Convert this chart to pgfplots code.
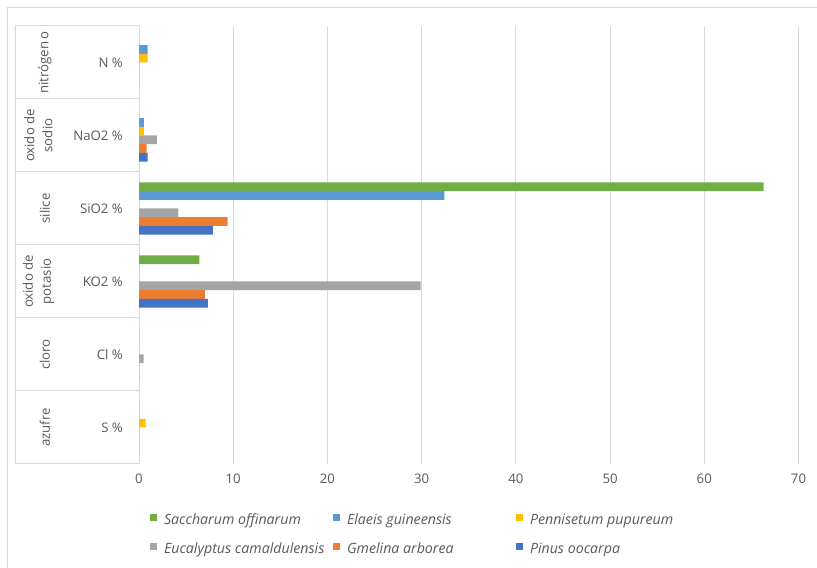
\documentclass[border=0pt]{standalone}
\usepackage{pgfplots}
\pgfplotsset{compat=1.18}
\usepackage{fontspec}
\setmainfont{Open Sans}
\definecolor{cgreen}{HTML}{70AD47}
\definecolor{cblue}{HTML}{5B9BD5}
\definecolor{cyellow}{HTML}{FFC000}
\definecolor{cgray}{HTML}{A5A5A5}
\definecolor{corange}{HTML}{ED7D31}
\definecolor{cdblue}{HTML}{4472C4}
\definecolor{txt}{HTML}{595959}
\definecolor{gridc}{HTML}{D9D9D9}
\newcommand{\lfont}{\fontsize{13.2bp}{18bp}\selectfont}
\newcommand{\gfont}{\fontsize{14.2bp}{18bp}\selectfont}
\begin{document}
\begin{tikzpicture}[x=1bp,y=1bp]
\path[use as bounding box] (0,0) rectangle (817,568);
\draw[gridc, line width=1bp] (7,0) -- (7,560) -- (817,560);
% category table lines
\draw[gridc, line width=1bp] (15,542) -- (15,104);
\foreach \yy in {542,469,396,323,250,177,104} {\draw[gridc, line width=1bp] (15,\yy) -- (139,\yy);}
\begin{axis}[
  at={(139bp,104bp)}, anchor=south west,
  scale only axis, width=659.5bp, height=438bp,
  xmin=0, xmax=70, ymin=-0.5, ymax=5.5,
  xbar, bar width=8.7bp,
  axis line style={draw=none},
  xtick={0,10,...,70}, ytick=\empty,
  xmajorgrids, grid style={gridc, line width=1bp},
  major tick length=0,
  xticklabel style={font=\lfont, text=txt, yshift=-6bp},
  /pgf/number format/assume math mode=true,
  legend style={at={(0.01668,-0.11416)}, anchor=north west, draw=none, fill=none,
    inner sep=0pt, outer sep=0pt,
    nodes={inner sep=0bp, text height=10bp, text depth=3bp, font=\gfont\itshape, text=txt},
    row sep=15bp,
    /tikz/every odd column/.append style={column sep=7bp},
    /tikz/every even column/.append style={column sep=0bp}},
  legend columns=3,
  legend image code/.code={\path[#1, draw=none] (0bp,0bp) rectangle (7bp,7bp);},
]
\addplot[fill=cgreen, draw=none, bar shift=21.75bp] coordinates {(0,0) (0,1) (6.4,2) (66.3,3) (0,4) (0,5)};
\addlegendentry{\makebox[169bp][l]{Saccharum offinarum}}
\addplot[fill=cblue, draw=none, bar shift=13.05bp] coordinates {(0,0) (0,1) (0,2) (32.4,3) (0.53,4) (0.92,5)};
\addlegendentry{\makebox[169bp][l]{Elaeis guineensis}}
\addplot[fill=cyellow, draw=none, bar shift=4.35bp] coordinates {(0.7,0) (0,1) (0,2) (0,3) (0.53,4) (0.92,5)};
\addlegendentry{\makebox[169bp][l]{Pennisetum pupureum}}
\addplot[fill=cgray, draw=none, bar shift=-4.35bp] coordinates {(0,0) (0.5,1) (29.9,2) (4.17,3) (1.9,4) (0,5)};
\addlegendentry{\makebox[169bp][l]{Eucalyptus camaldulensis}}
\addplot[fill=corange, draw=none, bar shift=-13.05bp] coordinates {(0,0) (0,1) (7.0,2) (9.4,3) (0.82,4) (0,5)};
\addlegendentry{\makebox[169bp][l]{Gmelina arborea}}
\addplot[fill=cdblue, draw=none, bar shift=-21.75bp] coordinates {(0,0) (0,1) (7.3,2) (7.85,3) (0.92,4) (0,5)};
\addlegendentry{\makebox[169bp][l]{Pinus oocarpa}}
\end{axis}
% inner category labels
\begin{scope}[every node/.style={font=\lfont, text=txt, inner sep=0bp}]
\node[anchor=east] at (123,505.5) {N \%};
\node[anchor=east] at (123,432.5) {NaO2 \%};
\node[anchor=east] at (123,359.5) {SiO2 \%};
\node[anchor=east] at (123,286.5) {KO2 \%};
\node[anchor=east] at (123,213.5) {Cl \%};
\node[anchor=east] at (123,140.5) {S \%};
% outer category labels
\node[rotate=90] at (45,505.5) {nitrógen\,o};
\node[rotate=90, align=center] at (38.5,432.5) {oxido de\\sodio};
\node[rotate=90] at (45,359.5) {silice};
\node[rotate=90, align=center] at (38.5,286.5) {oxido de\\potasio};
\node[rotate=90] at (45,213.5) {cloro};
\node[rotate=90] at (45,140.5) {azufre};
\end{scope}
\end{tikzpicture}
\end{document}
